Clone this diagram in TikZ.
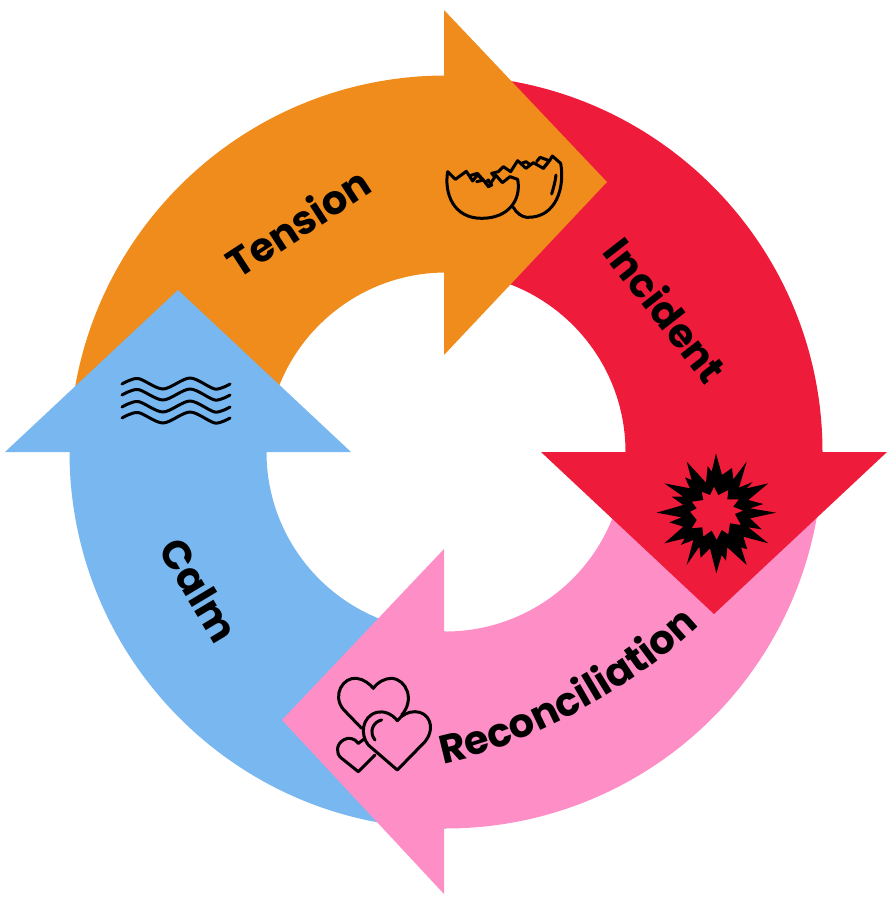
\documentclass[tikz,border=0pt]{standalone}
\usepackage{fontspec}
\setmainfont{Poppins}
\usepackage{xcolor}
\usetikzlibrary{positioning,decorations.text}
\definecolor{tensionorange}{HTML}{EF8C1B}
\definecolor{incidentred}{HTML}{EF1B3A}
\definecolor{reconcilepink}{HTML}{FD8EC6}
\definecolor{calmblue}{HTML}{78B7EF}
\tikzset{
  steplabel/.style={font=\bfseries\fontsize{40}{40}\selectfont,text=black,inner sep=0pt},
  iconline/.style={draw=black,line width=3pt,line join=round,line cap=round},
}
\begin{document}
\begin{tikzpicture}[x=1pt,y=-1pt]
\useasboundingbox (0,0) rectangle (894,902);
% ring quarters
\fill[tensionorange] (69.5,452) arc[start angle=180,end angle=90,radius=376.5pt] -- (446,272.5) arc[start angle=90,end angle=180,radius=179.5pt] -- cycle;
\fill[incidentred] (446,75.5) arc[start angle=90,end angle=0,radius=376.5pt] -- (625.5,452) arc[start angle=0,end angle=90,radius=179.5pt] -- cycle;
\fill[calmblue] (446,828.5) arc[start angle=-90,end angle=-180,radius=376.5pt] -- (266.5,452) arc[start angle=-180,end angle=-90,radius=179.5pt] -- cycle;
\fill[reconcilepink] (822.5,452) arc[start angle=0,end angle=-90.5,radius=376.5pt] -- (444,631.5) arc[start angle=-90.5,end angle=0,radius=179.5pt] -- cycle;
% arrow heads
\fill[tensionorange] (444,10) -- (607,182) -- (444,355) -- cycle;
\fill[incidentred] (887,452) -- (714,614) -- (541,452) -- cycle;
\fill[reconcilepink] (444,894) -- (282,720) -- (444,549) -- cycle;
\fill[calmblue] (5,452) -- (178,290) -- (351,452) -- cycle;
% labels
\node[steplabel,rotate=33] (tension) at (298,222) {Tension};
\node[steplabel,rotate=-52] (incident) at (666,310) {Incident};
\node[steplabel,rotate=-59] (calm) at (199,590) {Calm};
\path[decorate,decoration={text along path,text align=center,text={|\bfseries\fontsize{40}{40}\selectfont|Reconciliation}}] (447,763) .. controls (530,745) and (630,690) .. (697,628);
% egg
\begin{scope}[shift={(420,130)},x=0.3333pt,y=-0.3333pt]
\draw[iconline] (83,125) .. controls (72,190) and (100,265) .. (185,265) .. controls (265,265) and (305,210) .. (293,148) -- (270,140) -- (247,158) -- (228,136) -- (205,170) -- (190,150) -- (172,135) -- (158,153) -- (139,124) -- (106,148) -- cycle;
\draw[iconline] (150,137) -- (172,130) -- (190,150) -- (170,155);
\draw[iconline] (196,158) -- (205,150) -- (215,165) -- (205,170);
\draw[iconline] (215,130) -- (235,125) -- (250,110) -- (272,125) -- (293,92) -- (318,115) -- (340,98) -- (370,115) -- (390,90) -- (397,78) -- (422,100) .. controls (435,170) and (410,265) .. (320,262) .. controls (305,260) and (290,250) .. (280,232);
\draw[iconline] (215,130) -- (225,142);
\draw[iconline] (305,100) -- (318,95) -- (332,105);
\draw[iconline] (350,95) -- (360,82) -- (388,92) -- (370,115);
\draw[iconline] (408,135) .. controls (406,155) and (400,175) .. (395,192);
\end{scope}
% explosion
\begin{scope}[shift={(640,440)},x=0.3333pt,y=-0.3333pt]
\fill[black,even odd rule] (228,40) -- (246,105) -- (276,84) -- (280,118) -- (320,65) -- (297,143) -- (338,126) -- (320,145) -- (385,130) -- (325,180) -- (370,192) -- (330,205) -- (408,218) -- (330,235) -- (365,268) -- (325,262) -- (385,310) -- (310,290) -- (322,328) -- (303,322) -- (320,375) -- (262,322) -- (258,362) -- (245,345) -- (229,400) -- (210,325) -- (182,353) -- (178,320) -- (140,375) -- (160,300) -- (122,315) -- (135,295) -- (73,310) -- (130,260) -- (88,247) -- (125,232) -- (50,218) -- (130,195) -- (95,170) -- (130,170) -- (73,130) -- (150,145) -- (135,112) -- (155,120) -- (140,65) -- (198,128) -- (203,78) -- (215,95) -- cycle
(222,140) -- (235,165) -- (265,150) -- (262,178) -- (297,178) -- (280,200) -- (310,212) -- (285,222) -- (303,255) -- (270,250) -- (265,283) -- (245,270) -- (230,300) -- (215,272) -- (190,290) -- (187,262) -- (155,265) -- (170,240) -- (150,215) -- (170,205) -- (155,185) -- (190,180) -- (185,155) -- (210,165) -- cycle;
\end{scope}
% hearts
\begin{scope}[shift={(320,660)},x=0.3333pt,y=-0.3333pt]
\draw[iconline] (125,205) -- (70,148) .. controls (35,105) and (70,50) .. (110,55) .. controls (130,57) and (150,72) .. (160,85) .. controls (175,65) and (195,55) .. (215,55) .. controls (260,58) and (285,120) .. (245,165);
\draw[iconline] (232,182) .. controls (215,160) and (190,152) .. (170,157) .. controls (125,170) and (120,225) .. (145,255) -- (232,330) -- (315,245) .. controls (350,200) and (325,155) .. (285,155) .. controls (265,155) and (245,165) .. (232,182) -- cycle;
\draw[iconline] (115,250) .. controls (105,235) and (85,230) .. (70,240) .. controls (50,252) and (45,280) .. (65,295) -- (115,335) -- (165,285);
\draw[iconline] (115,250) -- (135,235);
\draw[iconline] (185,180) .. controls (160,185) and (145,215) .. (165,240);
\end{scope}
% waves
\foreach \wavey in {384,395,407,418}
  \draw[iconline] plot[smooth] coordinates {(122,\wavey) (138,\wavey-5.5) (163,\wavey+5) (190,\wavey-6) (215,\wavey+5) (230,\wavey)};
\end{tikzpicture}
\end{document}
